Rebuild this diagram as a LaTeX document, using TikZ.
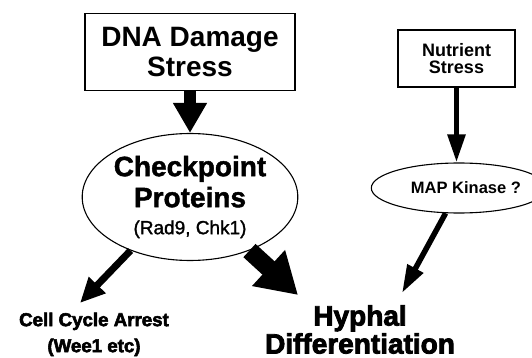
\documentclass[tikz,border=0pt]{standalone}
\usepackage{fontspec}
\setmainfont{Liberation Sans}
\newfontfamily\heavyfont[FakeBold=3]{Liberation Sans Bold}
\newfontfamily\semifont[FakeBold=1.5]{Liberation Sans Bold}
\newfontfamily\medfont[FakeBold=1.5]{Liberation Sans}
\usetikzlibrary{arrows.meta,shapes.geometric}

\begin{document}
\begin{tikzpicture}[x=1pt,y=-1pt,
        box/.style={draw,line width=1.3pt,align=center,inner sep=0pt},
        oval/.style={draw,ellipse,line width=1.1pt,align=center,inner sep=0pt},
        result/.style={align=center,inner sep=0pt,font=\heavyfont},
        fatarrow/.style={line width=18pt,-{Triangle[length=40pt,width=46pt]}},
        midarrow/.style={line width=12pt,-{Triangle[length=30pt,width=32pt]}},
        slimarrow/.style={line width=7pt,-{Triangle[length=25pt,width=22pt]}},
        thinarrow/.style={line width=5.5pt,-{Triangle[length=28pt,width=17pt]}}]
    \useasboundingbox (0,0) rectangle (532,358);

    % Стресс
    \node[box,minimum width=210pt,minimum height=77pt,
        font=\bfseries\fontsize{28}{30}\selectfont] (dna) at (190,52) {DNA Damage\\Stress};
    \node[box,minimum width=117pt,minimum height=57pt,
        font=\bfseries\fontsize{18}{17}\selectfont] (nutrient) at (456.5,58.5) {Nutrient\\Stress};

    % Белки
    \node[oval,minimum width=192pt,minimum height=127pt,
        font=\semifont\fontsize{28}{31}\selectfont] (checkpoint) at (190,197)
        {Checkpoint\\Proteins\\[-4pt]{\medfont\fontsize{19}{20}\selectfont (Rad9, Chk1)}};
    \node[oval,minimum width=144pt,minimum height=50pt,
        font=\bfseries\fontsize{16.5}{18}\selectfont] (mapk) at (459,188) {\hspace*{14pt}MAP Kinase ?};

    % Итог
    \node[result,anchor=north,font=\heavyfont\fontsize{18.7}{26}\selectfont] (arrest) at (94,312.4)
        {Cell Cycle Arrest\\(Wee1 etc)};
    \node[result,anchor=south,font=\heavyfont\fontsize{28}{28}\selectfont] (hyphal) at (360,354)
        {Hyphal\\Differentiation};

    % Концы стрелок
    \coordinate (arresttip) at (80,303);
    \coordinate (hyphaltip) at (298,295);
    \coordinate (maptip) at (402,293);

    % Стрелки
    \draw[midarrow] (dna.south) -- (dna.south |- checkpoint.north);
    \draw[thinarrow] (nutrient.south) -- (nutrient.south |- mapk.north);
    \draw[slimarrow] (checkpoint.222) -- (arresttip);
    \draw[fatarrow] (checkpoint.318) -- (hyphaltip);
    \draw[thinarrow] (mapk.242) -- (maptip);
\end{tikzpicture}
\end{document}
